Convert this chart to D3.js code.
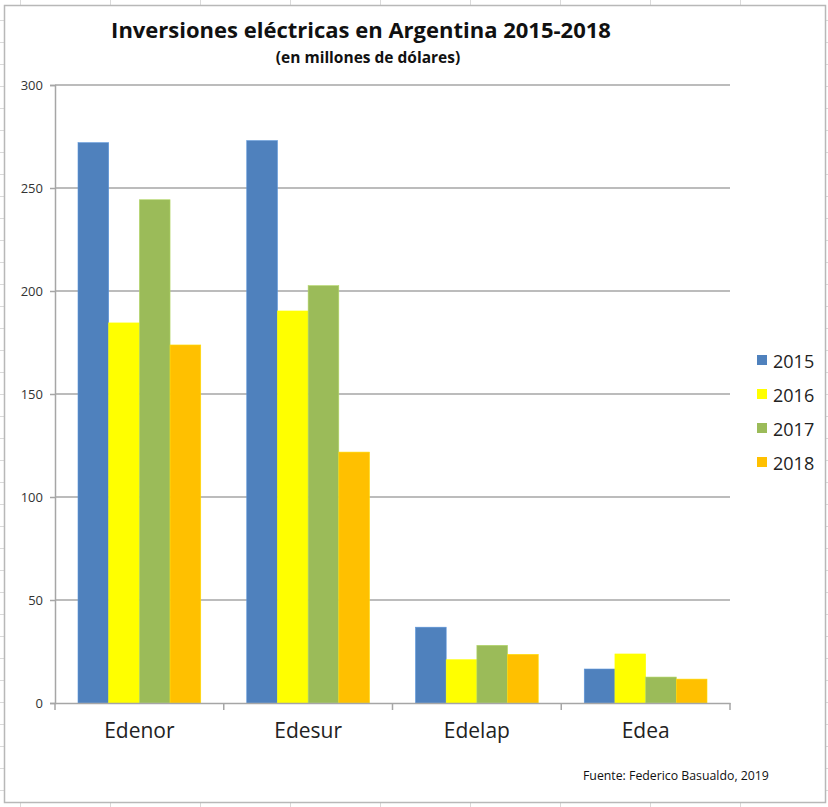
<!DOCTYPE html>
<html>
<head>
<meta charset="utf-8">
<script src="https://cdn.jsdelivr.net/npm/d3@7"></script>
<style>
  html, body { margin: 0; padding: 0; background: #fff; }
  svg { display: block; }
</style>
</head>
<body>
<div id="chart"></div>
<script>
// Data
var companies = ['Edenor', 'Edesur', 'Edelap', 'Edea'];
var years = ['2015', '2016', '2017', '2018'];
var v2015 = [272, 273, 36.8, 16.5];
var v2016 = [184.5, 190.3, 21, 23.8];
var v2017 = [244.3, 202.6, 28, 12.6];
var v2018 = [173.8, 121.8, 23.6, 11.6];
var yTicks = [0, 50, 100, 150, 200, 250, 300];
var yearColors = ['#4f81bd', '#ffff00', '#9bbb59', '#ffc000'];

var series = [v2015, v2016, v2017, v2018];

var width = 828, height = 807;
var svg = d3.select('#chart').append('svg')
    .attr('width', width)
    .attr('height', height);

// faint spreadsheet cells behind the chart
var bg = svg.append('g').attr('stroke', '#dadada').attr('stroke-width', 1);
d3.range(20, width, 90).forEach(function(x) {
    bg.append('line').attr('x1', x + 0.5).attr('x2', x + 0.5).attr('y1', 0).attr('y2', height);
});
d3.range(20, height, 22).forEach(function(y) {
    bg.append('line').attr('x1', 0).attr('x2', width).attr('y1', y + 0.5).attr('y2', y + 0.5);
});

// chart area
svg.append('rect')
    .attr('x', 4.5).attr('y', 5.5)
    .attr('width', 821).attr('height', 797)
    .attr('fill', '#fff')
    .attr('stroke', '#b8b8b8')
    .attr('stroke-width', 1.5);

var margin = { top: 85, left: 55, right: 98, bottom: 104 };
var plotW = width - margin.left - margin.right;
var plotH = height - margin.top - margin.bottom;

var g = svg.append('g')
    .attr('transform', 'translate(' + margin.left + ',' + margin.top + ')');

var x0 = d3.scaleBand().domain(companies).range([0, plotW]).paddingInner(0).paddingOuter(0);
var x1 = d3.scaleBand().domain(years).range([23, x0.bandwidth() - 23]).padding(0);
var y = d3.scaleLinear().domain([0, 300]).range([plotH, 0]);

// gridlines
g.selectAll('.grid')
    .data(yTicks.filter(function(d) { return d > 0; }))
    .enter().append('line')
    .attr('x1', 0).attr('x2', plotW)
    .attr('y1', function(d) { return y(d); })
    .attr('y2', function(d) { return y(d); })
    .attr('stroke', '#a6a6a6')
    .attr('stroke-width', 1.5);

// bars
companies.forEach(function(c, ci) {
    var grp = g.append('g').attr('transform', 'translate(' + x0(c) + ',0)');
    years.forEach(function(yr, yi) {
        var val = series[yi][ci];
        grp.append('rect')
            .attr('x', x1(yr))
            .attr('y', y(val))
            .attr('width', x1.bandwidth())
            .attr('height', y(0) - y(val))
            .attr('fill', yearColors[yi])
            .attr('stroke', d3.color(yearColors[yi]).brighter(0.4))
            .attr('stroke-width', 0.6);
    });
});

// y axis
var yAxis = g.append('g')
    .call(d3.axisLeft(y).tickValues(yTicks).tickSize(5).tickPadding(7));
yAxis.select('.domain').attr('stroke', '#a6a6a6').attr('stroke-width', 1.5);
yAxis.selectAll('.tick line').attr('stroke', '#a6a6a6').attr('stroke-width', 1.5);
yAxis.selectAll('text')
    .attr('font-family', 'Open Sans, sans-serif')
    .attr('font-size', '13px')
    .attr('fill', '#333');

// x axis
var xAxis = g.append('g')
    .attr('transform', 'translate(0,' + plotH + ')')
    .call(d3.axisBottom(x0).tickSize(0).tickPadding(20));
xAxis.select('.domain').attr('stroke', '#a6a6a6').attr('stroke-width', 1.5);
xAxis.selectAll('text')
    .attr('font-family', 'Open Sans, sans-serif')
    .attr('font-size', '21px')
    .attr('fill', '#222');
// category boundary ticks
g.selectAll('.cat-tick')
    .data(companies.concat(['end']))
    .enter().append('line')
    .attr('x1', function(d, i) { return i * x0.bandwidth(); })
    .attr('x2', function(d, i) { return i * x0.bandwidth(); })
    .attr('y1', plotH)
    .attr('y2', plotH + 7)
    .attr('stroke', '#a6a6a6')
    .attr('stroke-width', 1.5);

// legend
var legend = svg.append('g').attr('transform', 'translate(757,362)');
years.forEach(function(yr, i) {
    var row = legend.append('g').attr('transform', 'translate(0,' + (i * 34) + ')');
    row.append('rect')
        .attr('x', 0).attr('y', -7)
        .attr('width', 10).attr('height', 10)
        .attr('fill', yearColors[i]);
    row.append('text')
        .attr('x', 16).attr('y', 0)
        .attr('dy', '0.35em')
        .attr('font-family', 'Open Sans, sans-serif')
        .attr('font-size', '18px')
        .attr('fill', '#222')
        .text(yr);
});

// titles
svg.append('text')
    .attr('x', 361).attr('y', 38)
    .attr('text-anchor', 'middle')
    .attr('font-family', 'Open Sans, sans-serif')
    .attr('font-weight', 'bold')
    .attr('font-size', '22px')
    .attr('fill', '#111')
    .text('Inversiones eléctricas en Argentina 2015-2018');
svg.append('text')
    .attr('x', 368).attr('y', 63)
    .attr('text-anchor', 'middle')
    .attr('font-family', 'Open Sans, sans-serif')
    .attr('font-weight', 'bold')
    .attr('font-size', '15.5px')
    .attr('fill', '#111')
    .text('(en millones de dólares)');

// source note
svg.append('text')
    .attr('x', 583).attr('y', 780)
    .attr('font-family', 'Open Sans, sans-serif')
    .attr('font-size', '12.3px')
    .attr('fill', '#111')
    .text('Fuente: Federico Basualdo, 2019');
</script>
</body>
</html>
